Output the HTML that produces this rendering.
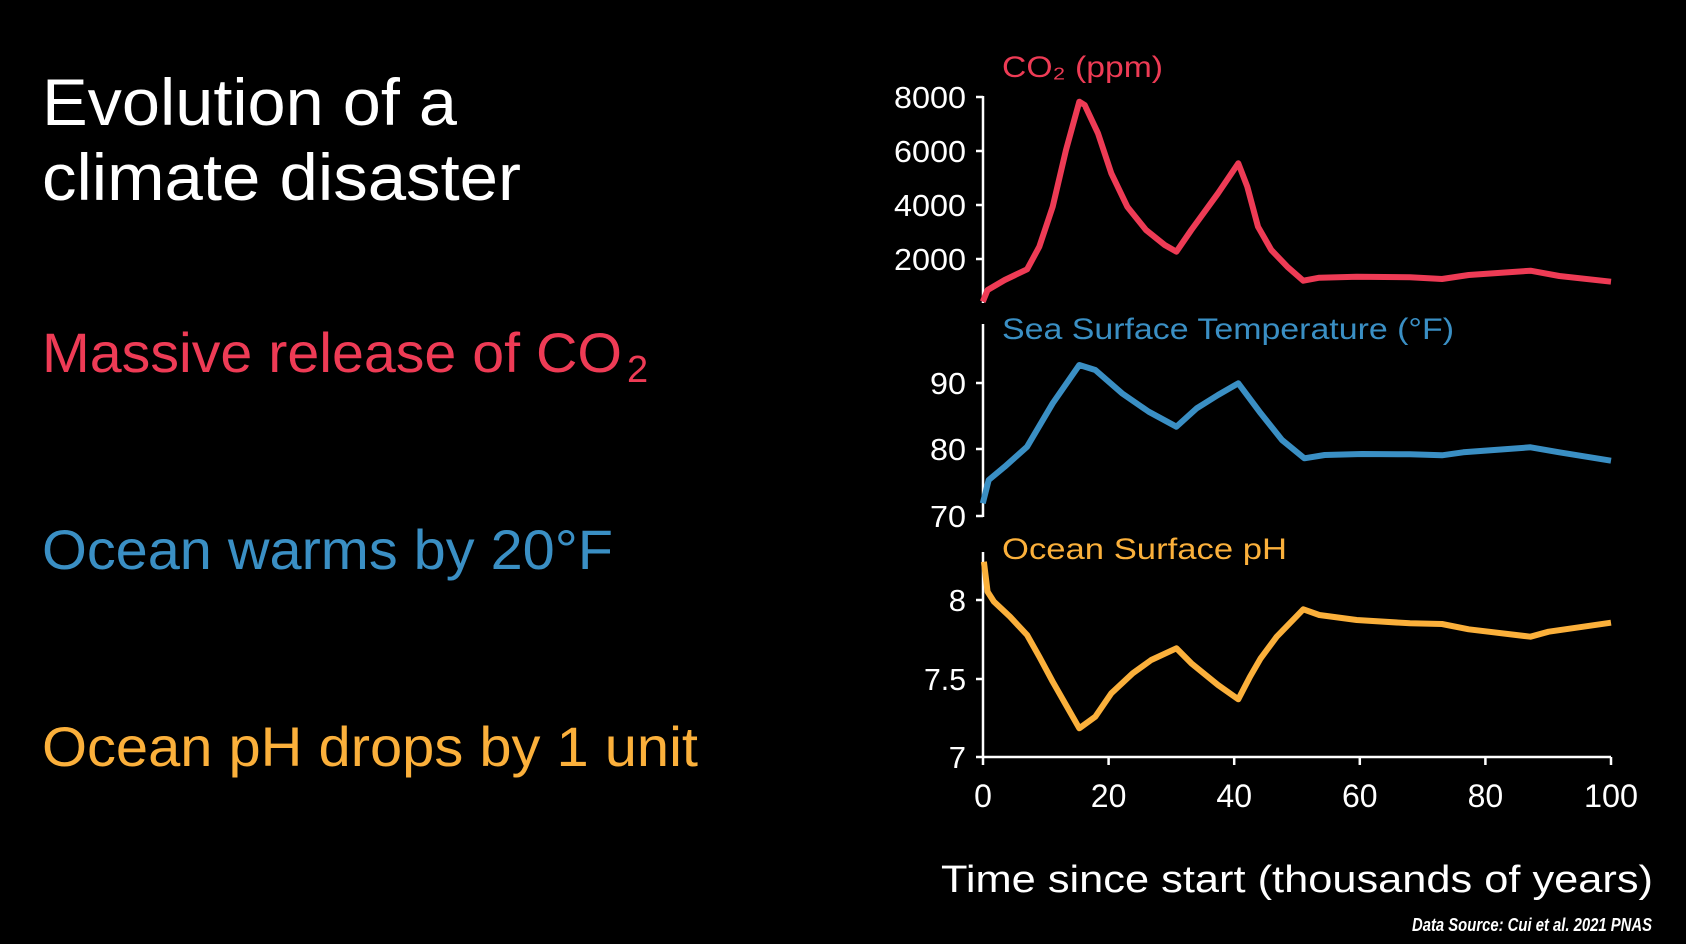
<!DOCTYPE html>
<html><head><meta charset="utf-8"><style>
html,body{margin:0;padding:0;background:#000;width:1686px;height:944px;overflow:hidden}
svg{display:block}
text{font-family:"Liberation Sans",sans-serif}
</style></head><body>
<svg width="1686" height="944" viewBox="0 0 1686 944" xmlns="http://www.w3.org/2000/svg">
<rect width="1686" height="944" fill="#000"/>
<text x="42" y="125" font-size="66" fill="#fff" textLength="415" lengthAdjust="spacingAndGlyphs">Evolution of a</text>
<text x="42" y="200" font-size="66" fill="#fff" textLength="479" lengthAdjust="spacingAndGlyphs">climate disaster</text>
<text x="42" y="372" font-size="56" fill="#ee3b55" textLength="580" lengthAdjust="spacingAndGlyphs">Massive release of CO</text>
<text x="627" y="382" font-size="38" fill="#ee3b55">2</text>
<text x="42" y="569" font-size="56" fill="#3a8fc4" textLength="571" lengthAdjust="spacingAndGlyphs">Ocean warms by 20°F</text>
<text x="42" y="766" font-size="56" fill="#fbb03b" textLength="656" lengthAdjust="spacingAndGlyphs">Ocean pH drops by 1 unit</text>

<g stroke="#fff" stroke-width="2.5" fill="none">
<line x1="983" y1="96" x2="983" y2="303"/>
<line x1="976" y1="97" x2="983" y2="97"/><line x1="976" y1="151" x2="983" y2="151"/><line x1="976" y1="205" x2="983" y2="205"/><line x1="976" y1="259" x2="983" y2="259"/>
<line x1="983" y1="324" x2="983" y2="517"/>
<line x1="976" y1="383" x2="983" y2="383"/><line x1="976" y1="449" x2="983" y2="449"/><line x1="976" y1="516" x2="983" y2="516"/>
<line x1="983" y1="552" x2="983" y2="758"/>
<line x1="976" y1="600" x2="983" y2="600"/><line x1="976" y1="679" x2="983" y2="679"/><line x1="976" y1="757" x2="983" y2="757"/>
<line x1="983" y1="757" x2="1611" y2="757"/>
<line x1="983" y1="757" x2="983" y2="765"/><line x1="1108.6" y1="757" x2="1108.6" y2="765"/><line x1="1234.2" y1="757" x2="1234.2" y2="765"/><line x1="1359.8" y1="757" x2="1359.8" y2="765"/><line x1="1485.4" y1="757" x2="1485.4" y2="765"/><line x1="1611" y1="757" x2="1611" y2="765"/>
</g>
<g font-size="31" fill="#fff" text-anchor="end">
<text x="966" y="108" textLength="72" lengthAdjust="spacingAndGlyphs">8000</text>
<text x="966" y="162" textLength="72" lengthAdjust="spacingAndGlyphs">6000</text>
<text x="966" y="216" textLength="72" lengthAdjust="spacingAndGlyphs">4000</text>
<text x="966" y="270" textLength="72" lengthAdjust="spacingAndGlyphs">2000</text>
<text x="966" y="394" textLength="36" lengthAdjust="spacingAndGlyphs">90</text>
<text x="966" y="460" textLength="36" lengthAdjust="spacingAndGlyphs">80</text>
<text x="966" y="527" textLength="36" lengthAdjust="spacingAndGlyphs">70</text>
<text x="966" y="611">8</text>
<text x="966" y="690" textLength="42" lengthAdjust="spacingAndGlyphs">7.5</text>
<text x="966" y="768">7</text>
</g>
<g font-size="32" fill="#fff" text-anchor="middle">
<text x="983" y="807">0</text>
<text x="1108.6" y="807">20</text>
<text x="1234.2" y="807">40</text>
<text x="1359.8" y="807">60</text>
<text x="1485.4" y="807">80</text>
<text x="1611" y="807" textLength="54" lengthAdjust="spacingAndGlyphs">100</text>
</g>
<text x="1002" y="77" font-size="30" fill="#ee3b55" textLength="161" lengthAdjust="spacingAndGlyphs">CO₂ (ppm)</text>
<text x="1002" y="339" font-size="30" fill="#3a8fc4" textLength="452" lengthAdjust="spacingAndGlyphs">Sea Surface Temperature (°F)</text>
<text x="1002" y="559" font-size="30" fill="#fbb03b" textLength="285" lengthAdjust="spacingAndGlyphs">Ocean Surface pH</text>
<text x="1653" y="892" font-size="38" fill="#fff" text-anchor="end" textLength="712" lengthAdjust="spacingAndGlyphs">Time since start (thousands of years)</text>
<text x="1652" y="931" font-size="18" font-weight="bold" font-style="italic" fill="#fff" text-anchor="end" textLength="240" lengthAdjust="spacingAndGlyphs">Data Source: Cui et al. 2021 PNAS</text>

<g fill="none" stroke-width="6" stroke-linejoin="round" stroke-linecap="butt">
<polyline stroke="#ee3b55" points="982.8,301.7 987.6,290 1004.7,280 1027.1,269.3 1039.3,246.7 1052.7,206.7 1066,150 1079.3,101.7 1084.7,105 1098,133.3 1111.3,173.3 1127.3,206.7 1146,230 1164.7,245 1176.4,251.7 1191.3,230 1218,193.3 1238.3,163.3 1247.3,186.7 1258,226.7 1271.3,250 1287.3,266.7 1303.3,280.7 1319.3,277.7 1356.7,276.7 1410,277.3 1442,279 1468.7,275 1530.5,270.7 1559.3,276 1611,281.7"/>
<polyline stroke="#3a8fc4" points="982.8,503.3 988.7,480 1004.7,466.7 1027.1,446.7 1052.7,403.3 1079.3,365 1095.3,370 1122,393.3 1148.7,411.7 1176.4,426.7 1196.7,408.3 1218,395 1238.3,383.3 1260.7,413.3 1282,440 1304.4,458.3 1324.7,455 1362,454 1410,454.3 1442,455.3 1463.3,452.3 1530.5,447.3 1559.3,452.3 1611,460.7"/>
<polyline stroke="#fbb03b" points="983.9,561.7 987.6,591.7 994,601.7 1010,616.7 1027.1,635 1039.3,656.7 1052.7,681.7 1066,705 1079.3,728.3 1095.3,716.7 1111.3,693.3 1132.7,673.3 1151.2,660 1176.4,648.3 1191.3,663.3 1218,685 1238.3,699.3 1250,676.7 1260.7,658.3 1276.7,636.7 1303.3,609.3 1319.3,615 1356.7,620 1410,623.3 1442,624 1468.7,629.3 1530.5,636.7 1548.7,631.7 1611,622.7"/>
</g>
</svg>
</body></html>
